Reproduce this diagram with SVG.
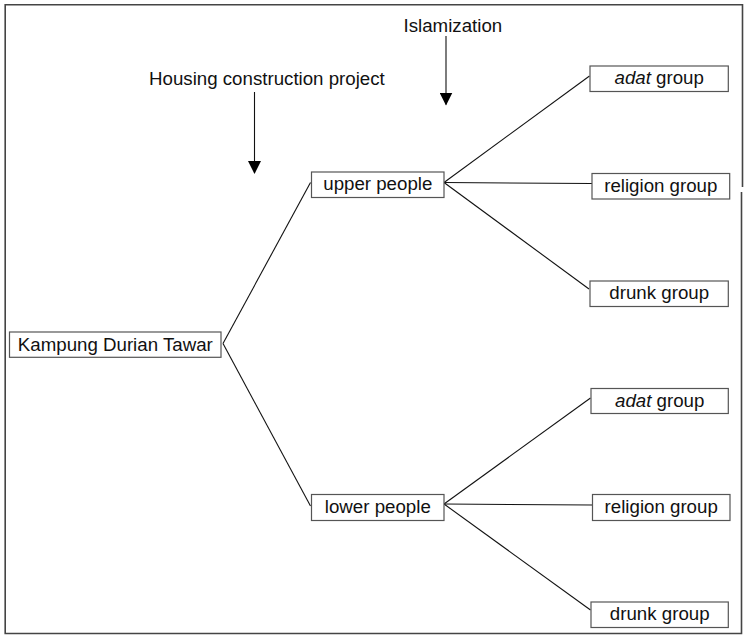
<svg xmlns="http://www.w3.org/2000/svg" width="746" height="636" viewBox="0 0 746 636">
<style>
.node rect{fill:#fff;stroke:#555;stroke-width:1.2}
text{font-family:"Liberation Sans",Arial,sans-serif;font-size:18.7px;fill:#111}
.c{text-anchor:middle}
.conn line{stroke:#111;stroke-width:1.1;fill:none}
.frame{fill:none;stroke:#444;stroke-width:1.6}
</style>
<defs>
<marker id="ah" markerUnits="userSpaceOnUse" markerWidth="13" markerHeight="13" viewBox="0 0 13 13" refX="12" refY="6.5" orient="auto">
<path d="M0,0 L13,6.5 L0,13 z" fill="#000"/>
</marker>
</defs>
<rect width="746" height="636" fill="#fff"/>
<path class="frame" d="M742.5,187 L742.5,4.7 L5.2,4.7 L5.2,633.5 L741.5,633.5 L741.5,192"/>
<g id="connectors" class="conn">
<line x1="223" y1="343.5" x2="310.5" y2="182.5"/>
<line x1="223" y1="343.5" x2="310.5" y2="506"/>
<line x1="444" y1="182.5" x2="589.5" y2="76"/>
<line x1="444" y1="182.5" x2="592" y2="183.5"/>
<line x1="444" y1="182.5" x2="589" y2="289"/>
<line x1="444" y1="504" x2="590.5" y2="398"/>
<line x1="444" y1="504" x2="592.5" y2="505"/>
<line x1="444" y1="504" x2="590.5" y2="610"/>
<line x1="254.5" y1="92" x2="254.5" y2="173" marker-end="url(#ah)"/>
<line x1="446" y1="36" x2="446" y2="104.5" marker-end="url(#ah)"/>
</g>
<g id="label-housing"><text x="149" y="85">Housing construction project</text></g>
<g id="label-islamization"><text x="403.5" y="31.5">Islamization</text></g>
<g id="kampung" class="node"><rect x="9.5" y="332" width="211.5" height="25.3"/><text class="c" x="115.3" y="350.5">Kampung Durian Tawar</text></g>
<g id="upper" class="node"><rect x="311.5" y="172" width="132.5" height="25.5"/><text class="c" x="377.8" y="190.3">upper people</text></g>
<g id="lower" class="node"><rect x="311.5" y="494.5" width="132.5" height="26"/><text class="c" x="377.8" y="512.8">lower people</text></g>
<g id="upper-adat" class="node"><rect x="590" y="66" width="138.3" height="25.5"/><text class="c" x="659.2" y="84.3"><tspan font-style="italic">adat</tspan> group</text></g>
<g id="upper-religion" class="node"><rect x="592" y="173.5" width="137.7" height="25.5"/><text class="c" x="660.8" y="191.8">religion group</text></g>
<g id="upper-drunk" class="node"><rect x="590" y="281" width="138.3" height="25.5"/><text class="c" x="659.2" y="299.3">drunk group</text></g>
<g id="lower-adat" class="node"><rect x="591" y="388.5" width="137.3" height="25"/><text class="c" x="659.7" y="406.6"><tspan font-style="italic">adat</tspan> group</text></g>
<g id="lower-religion" class="node"><rect x="592.5" y="494.5" width="137.5" height="26"/><text class="c" x="661.2" y="512.8">religion group</text></g>
<g id="lower-drunk" class="node"><rect x="591" y="602" width="137.3" height="25.5"/><text class="c" x="659.7" y="620.3">drunk group</text></g>
</svg>
